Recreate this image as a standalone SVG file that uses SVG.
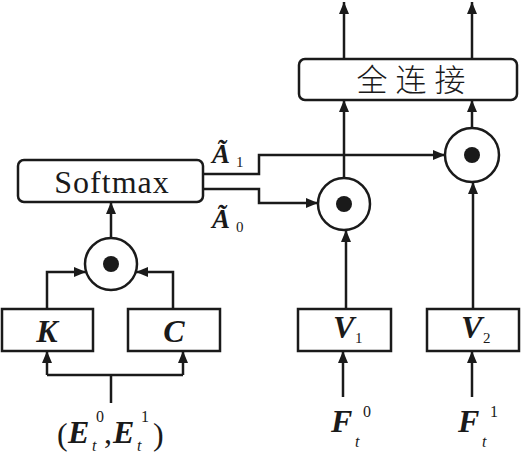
<svg xmlns="http://www.w3.org/2000/svg" width="521" height="463" viewBox="0 0 521 463">
<style>
.ln{fill:none;stroke:#1a1a1a;stroke-width:2.5}
.bx{fill:#fff;stroke:#1a1a1a;stroke-width:2.5}
.dot{fill:#1a1a1a}
</style>
<defs>
<marker id="ar" markerUnits="userSpaceOnUse" markerWidth="12" markerHeight="10" refX="12" refY="5" orient="auto">
<path d="M0,0 L12,5 L0,10 z" fill="#1a1a1a"/>
</marker>
</defs>
<g id="connectors">
<path class="ln" d="M344,59 V2" marker-end="url(#ar)"/>
<path class="ln" d="M472,59 V2" marker-end="url(#ar)"/>
<path class="ln" d="M344,178 V100" marker-end="url(#ar)"/>
<path class="ln" d="M472,128 V100" marker-end="url(#ar)"/>
<path class="ln" d="M203,174 H259 V155 H445" marker-end="url(#ar)"/>
<path class="ln" d="M203,189 H259 V203 H318" marker-end="url(#ar)"/>
<path class="ln" d="M111,238 V202" marker-end="url(#ar)"/>
<path class="ln" d="M47,309 V272 H86" marker-end="url(#ar)"/>
<path class="ln" d="M173,309 V272 H136" marker-end="url(#ar)"/>
<path class="ln" d="M111,403 V375"/>
<path class="ln" d="M47,375 H183"/>
<path class="ln" d="M47,375 V351" marker-end="url(#ar)"/>
<path class="ln" d="M183,375 V351" marker-end="url(#ar)"/>
<path class="ln" d="M346,309 V230" marker-end="url(#ar)"/>
<path class="ln" d="M473,309 V182" marker-end="url(#ar)"/>
<path class="ln" d="M343,397 V351" marker-end="url(#ar)"/>
<path class="ln" d="M472,397 V351" marker-end="url(#ar)"/>
</g>
<g id="fc">
<rect class="bx" x="299" y="59" width="218" height="41" rx="6"/>
<text x="415" y="91" text-anchor="middle" font-family="Noto Sans CJK SC, sans-serif" font-weight="300" font-size="31" letter-spacing="8" fill="#1a1a1a">全连接</text>
</g>
<g fill="#1a1a1a" font-family="Liberation Serif, DejaVu Serif, serif">
<g id="softmax">
<rect class="bx" x="18" y="160" width="185" height="42" rx="6"/>
<text x="112" y="193" text-anchor="middle" font-size="32" letter-spacing="1">Softmax</text>
</g>
<g id="K"><rect class="bx" x="2" y="309" width="91" height="42"/><text font-weight="bold" font-style="italic" x="47" y="342" text-anchor="middle" font-size="32">K</text></g>
<g id="C"><rect class="bx" x="128" y="309" width="92" height="42"/><text font-weight="bold" font-style="italic" x="174" y="342" text-anchor="middle" font-size="32">C</text></g>
<g id="V1"><rect class="bx" x="298" y="309" width="93" height="42"/><text font-weight="bold" font-style="italic" x="333" y="338" font-size="32">V</text><text x="355" y="343" font-size="15">1</text></g>
<g id="V2"><rect class="bx" x="427" y="309" width="92" height="42"/><text font-weight="bold" font-style="italic" x="461" y="338" font-size="32">V</text><text x="483" y="343" font-size="15">2</text></g>
<g id="labels">
<text font-weight="bold" font-style="italic" x="212" y="163" font-size="27">Ã</text><text x="236" y="167" font-size="15">1</text>
<text font-weight="bold" font-style="italic" x="212" y="228" font-size="27">Ã</text><text x="236" y="232" font-size="15">0</text>
<text font-weight="bold" font-style="italic" x="331" y="432" font-size="32">F</text><text font-style="italic" x="355" y="447" font-size="16">t</text><text x="363" y="417" font-size="16">0</text>
<text font-weight="bold" font-style="italic" x="458" y="432" font-size="32">F</text><text font-style="italic" x="482" y="447" font-size="16">t</text><text x="490" y="417" font-size="16">1</text>
<text x="57" y="445" font-size="32">(</text>
<text font-weight="bold" font-style="italic" x="68" y="443" font-size="32">E</text><text font-style="italic" x="92" y="451" font-size="16">t</text><text x="96" y="422" font-size="16">0</text>
<text x="104" y="443" font-size="32">,</text>
<text font-weight="bold" font-style="italic" x="113" y="443" font-size="32">E</text><text font-style="italic" x="137" y="451" font-size="16">t</text><text x="141" y="422" font-size="16">1</text>
<text x="153" y="445" font-size="32">)</text>
</g>
</g>
<g id="mul1"><circle class="bx" cx="111" cy="264" r="26"/><circle class="dot" cx="111" cy="264" r="8"/></g>
<g id="mul2"><circle class="bx" cx="344" cy="204" r="26"/><circle class="dot" cx="344" cy="204" r="8"/></g>
<g id="mul3"><circle class="bx" cx="472" cy="155" r="27"/><circle class="dot" cx="472" cy="155" r="8"/></g>
</svg>
